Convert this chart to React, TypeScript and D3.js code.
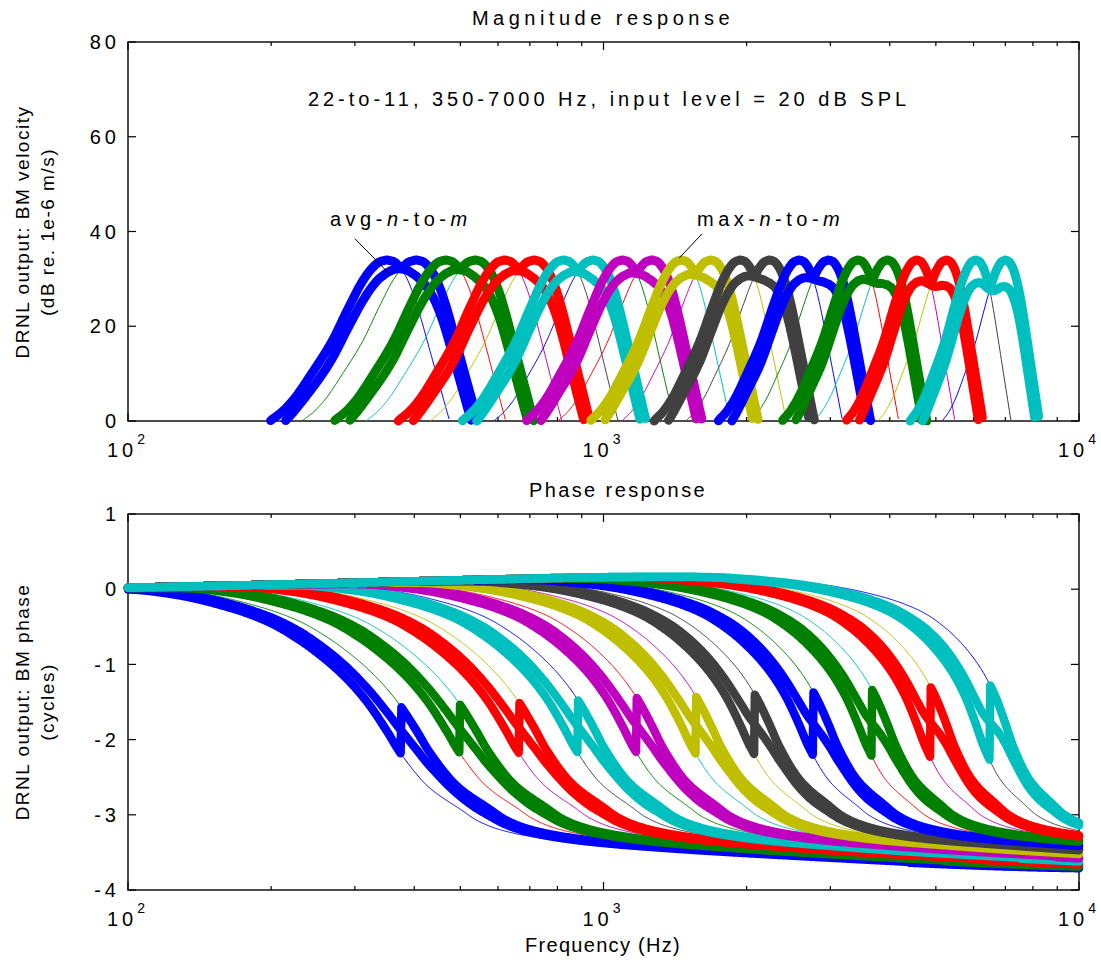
import React from 'react';
import * as d3 from 'd3';

// 22 DRNL channels, log spaced from 350 to 7000 Hz
const channelCF = [350, 403.6, 465.5, 536.8, 619.1, 714.0, 823.4, 949.6, 1095.2, 1263.0, 1456.6,
  1679.9, 1937.3, 2234.3, 2576.7, 2971.6, 3427.0, 3952.3, 4558.0, 5256.6, 6062.2, 7000];
// relative tuning width of each channel (lowest channel = 1)
const channelWidth = [1.0, 0.978, 0.956, 0.934, 0.912, 0.89, 0.869, 0.847, 0.825, 0.803, 0.781,
  0.759, 0.737, 0.715, 0.693, 0.671, 0.65, 0.628, 0.606, 0.584, 0.562, 0.54];
const colorOrder = ['#0000ff', '#008000', '#ff0000', '#00bfbf', '#bf00bf', '#bfbf00', '#404040'];

// magnitude shape, u = distance from CF / distance to the 0 dB edge
const magEdgeLow = 0.245; // decades below CF where the lowest channel hits 0 dB
const magEdgeHigh = 0.1325; // decades above CF
const magLowU = [0, 0.06, 0.12, 0.2, 0.33, 0.47, 0.65, 0.8, 0.9, 1, 1.5, 2, 3, 8];
const magLowDb = [34, 33.6, 32.4, 29.8, 23.8, 16.8, 9.8, 4.5, 1.9, 0, -14, -28, -55, -150];
const magHighU = [0, 0.1, 0.2, 0.3, 0.4, 0.5, 0.6, 0.7, 0.8, 0.9, 1, 1.5, 2, 3, 8];
const magHighDb = [34, 33.7, 32.6, 30.6, 27.6, 23.6, 19, 14.2, 9.4, 4.7, 0, -17, -34, -68, -200];

// phase shape of the lowest channel, decades from CF -> cycles
const phaseD = [-8, -0.8, -0.6, -0.54, -0.45, -0.332, -0.25, -0.191, -0.14, -0.086, -0.04, 0,
  0.029, 0.088, 0.158, 0.19, 0.229, 0.28, 0.35, 0.456, 0.8, 1.456, 3, 8];
const phaseCyc = [0, 0, -0.012, -0.025, -0.1, -0.29, -0.49, -0.71, -0.95, -1.26, -1.6, -1.98,
  -2.28, -2.74, -3.06, -3.2, -3.31, -3.4, -3.48, -3.56, -3.72, -3.91, -4.02, -4.05];
// slow phase lead common to all channels
const leadHz = [100, 200, 500, 1000, 2000, 5000, 10000];
const leadCyc = [0.02, 0.06, 0.12, 0.16, 0.18, 0.19, 0.2];

const magTicks = [0, 20, 40, 60, 80];
const phaseTicks = [1, 0, -1, -2, -3, -4];
const decadeTicks = [100, 1000, 10000];

const FONT = '"Liberation Sans", Arial, Helvetica, sans-serif';

const plot = { left: 128, right: 1079 };
const magBox = { top: 42, bottom: 421 };
const phBox = { top: 514, bottom: 890 };

type Pt = { f: number; db: number; ph: number };

const x = d3.scaleLog().domain([100, 10000]).range([plot.left, plot.right]);
const yMag = d3.scaleLinear().domain([0, 80]).range([magBox.bottom, magBox.top]);
const yPh = d3.scaleLinear().domain([-4, 1]).range([phBox.bottom, phBox.top]);

// monotone cubic through the read-off points, so the templates have no kinks
function monotone(xs: number[], ys: number[]) {
  const n = xs.length;
  const h: number[] = [];
  const s: number[] = [];
  for (let i = 0; i < n - 1; i++) {
    h[i] = xs[i + 1] - xs[i];
    s[i] = (ys[i + 1] - ys[i]) / h[i];
  }
  const t: number[] = new Array(n);
  t[0] = s[0];
  t[n - 1] = s[n - 2];
  for (let i = 1; i < n - 1; i++) {
    if (s[i - 1] * s[i] <= 0) t[i] = 0;
    else t[i] = (3 * (h[i - 1] + h[i])) / ((2 * h[i] + h[i - 1]) / s[i - 1] + (h[i] + 2 * h[i - 1]) / s[i]);
  }
  return (v: number) => {
    if (v <= xs[0]) return ys[0];
    if (v >= xs[n - 1]) return ys[n - 1];
    const i = Math.min(n - 2, d3.bisectRight(xs, v) - 1);
    const u = (v - xs[i]) / h[i];
    const u2 = u * u;
    const u3 = u2 * u;
    return (
      (2 * u3 - 3 * u2 + 1) * ys[i] +
      (u3 - 2 * u2 + u) * h[i] * t[i] +
      (-2 * u3 + 3 * u2) * ys[i + 1] +
      (u3 - u2) * h[i] * t[i + 1]
    );
  };
}

const magLow = monotone(magLowU, magLowDb);
const magHigh = monotone(magHighU, magHighDb);
const phaseShape = monotone(phaseD, phaseCyc);
const leadLog = monotone(leadHz.map(Math.log10), leadCyc);

const nSamples = 1200;
const freqs = d3.range(nSamples + 1).map(i => x.invert(plot.left + (i * (plot.right - plot.left)) / nSamples));

function channel(k: number): Pt[] {
  const cf = channelCF[k];
  const w = channelWidth[k];
  return freqs.map(f => {
    const d = Math.log10(f / cf);
    const db = d < 0 ? magLow(-d / (magEdgeLow * w)) : magHigh(d / (magEdgeHigh * w));
    const ds = d / (w + (1 - w) * Math.min(1, Math.abs(d) / 0.5));
    return { f, db, ph: phaseShape(ds) + leadLog(Math.log10(f)) };
  });
}

const thin = channelCF.map((_, k) => channel(k));

const pairs = d3.range(thin.length / 2).map(j => {
  const a = thin[2 * j];
  const b = thin[2 * j + 1];
  const max: Pt[] = a.map((p, i) => (p.db >= b[i].db ? p : b[i]));
  const avg: Pt[] = a.map((p, i) => {
    const q = b[i];
    const la = Math.pow(10, p.db / 20);
    const lb = Math.pow(10, q.db / 20);
    const wa = Math.pow(la, 0.25);
    const wb = Math.pow(lb, 0.25);
    return { f: p.f, db: 20 * Math.log10((la + lb) / 2), ph: (wa * p.ph + wb * q.ph) / (wa + wb) };
  });
  return { max, avg, color: colorOrder[j % colorOrder.length] };
});

const magLine = d3
  .line<Pt>()
  .defined(p => p.db >= 0)
  .x(p => x(p.f))
  .y(p => yMag(p.db));
const phLine = d3
  .line<Pt>()
  .x(p => x(p.f))
  .y(p => yPh(p.ph));

const minorTicks = [100, 1000].flatMap(dec => d3.range(2, 10).map(m => m * dec));

function Frame({ top, bottom, yScale, ticks }: { top: number; bottom: number; yScale: any; ticks: number[] }) {
  return (
    <g>
      <rect x={plot.left} y={top} width={plot.right - plot.left} height={bottom - top} fill="none" stroke="#000" strokeWidth={1.4} />
      {decadeTicks.map(t => (
        <g key={'M' + t}>
          <line x1={x(t)} x2={x(t)} y1={bottom} y2={bottom - 8} stroke="#000" strokeWidth={1.2} />
          <line x1={x(t)} x2={x(t)} y1={top} y2={top + 8} stroke="#000" strokeWidth={1.2} />
          <text x={x(t)} y={bottom + 36} textAnchor="middle" fontSize={20} letterSpacing={4} fontFamily={FONT}>
            10
            <tspan dy={-13} fontSize={14}>
              {Math.round(Math.log10(t))}
            </tspan>
          </text>
        </g>
      ))}
      {minorTicks.map(t => (
        <g key={'m' + t}>
          <line x1={x(t)} x2={x(t)} y1={bottom} y2={bottom - 4} stroke="#000" strokeWidth={1.2} />
          <line x1={x(t)} x2={x(t)} y1={top} y2={top + 4} stroke="#000" strokeWidth={1.2} />
        </g>
      ))}
      {ticks.map(t => (
        <g key={'y' + t}>
          <line x1={plot.left} x2={plot.left + 8} y1={yScale(t)} y2={yScale(t)} stroke="#000" strokeWidth={1.2} />
          <line x1={plot.right} x2={plot.right - 8} y1={yScale(t)} y2={yScale(t)} stroke="#000" strokeWidth={1.2} />
          <text x={120} y={yScale(t)} dy="0.36em" textAnchor="end" fontSize={20} letterSpacing={4} fontFamily={FONT}>
            {t}
          </text>
        </g>
      ))}
    </g>
  );
}

export default function App() {
  const thickW = 9;
  return (
    <svg width={1101} height={963} style={{ position: 'absolute', left: 0, top: 0, background: '#fff' }}>
      <rect width={1101} height={963} fill="#fff" />
      <Frame top={magBox.top} bottom={magBox.bottom} yScale={yMag} ticks={magTicks} />
      <Frame top={phBox.top} bottom={phBox.bottom} yScale={yPh} ticks={phaseTicks} />

      {/* magnitude */}
      <g fill="none" strokeLinejoin="round" strokeLinecap="round">
        {thin.map((c, k) => (
          <path key={k} d={magLine(c) || ''} stroke={colorOrder[k % colorOrder.length]} strokeWidth={1} />
        ))}
        {pairs.map((p, j) => (
          <g key={j} stroke={p.color} strokeWidth={thickW}>
            <path d={magLine(p.max) || ''} />
            <path d={magLine(p.avg) || ''} />
          </g>
        ))}
      </g>

      {/* phase */}
      <g fill="none" strokeLinejoin="round" strokeLinecap="round">
        {thin.map((c, k) => (
          <path key={k} d={phLine(c) || ''} stroke={colorOrder[k % colorOrder.length]} strokeWidth={1} />
        ))}
        {pairs.map((p, j) => (
          <g key={j} stroke={p.color} strokeWidth={thickW - 0.5}>
            <path d={phLine(p.max) || ''} />
            <path d={phLine(p.avg) || ''} />
          </g>
        ))}
      </g>

      <g fontFamily={FONT} fill="#000">
        <text x={603} y={25} textAnchor="middle" fontSize={20} letterSpacing={4.5}>
          Magnitude response
        </text>
        <text x={609} y={106} textAnchor="middle" fontSize={20} letterSpacing={4}>
          22-to-11, 350-7000 Hz, input level = 20 dB SPL
        </text>
        <text x={330} y={226} fontSize={20} letterSpacing={4.5}>
          avg-<tspan fontStyle="italic">n</tspan>-to-<tspan fontStyle="italic">m</tspan>
        </text>
        <text x={697} y={226} fontSize={20} letterSpacing={4.5}>
          max-<tspan fontStyle="italic">n</tspan>-to-<tspan fontStyle="italic">m</tspan>
        </text>
        <line x1={x(300)} y1={yMag(38.5)} x2={x(355)} y2={yMag(31)} stroke="#000" strokeWidth={1} />
        <line x1={x(1611)} y1={yMag(39.5)} x2={x(1443)} y2={yMag(34.4)} stroke="#000" strokeWidth={1} />

        <text x={618} y={497} textAnchor="middle" fontSize={20} letterSpacing={2.4}>
          Phase response
        </text>
        <text x={603} y={952} textAnchor="middle" fontSize={20} letterSpacing={1.3}>
          Frequency (Hz)
        </text>

        <text transform="translate(22,232) rotate(-90)" textAnchor="middle" dominantBaseline="central" fontSize={19} letterSpacing={1.5}>
          DRNL output: BM velocity
        </text>
        <text transform="translate(47,232) rotate(-90)" textAnchor="middle" dominantBaseline="central" fontSize={19} letterSpacing={1.5}>
          (dB re. 1e-6 m/s)
        </text>
        <text transform="translate(22,702) rotate(-90)" textAnchor="middle" dominantBaseline="central" fontSize={19} letterSpacing={1.5}>
          DRNL output: BM phase
        </text>
        <text transform="translate(47,702) rotate(-90)" textAnchor="middle" dominantBaseline="central" fontSize={19} letterSpacing={1.5}>
          (cycles)
        </text>
      </g>
    </svg>
  );
}
